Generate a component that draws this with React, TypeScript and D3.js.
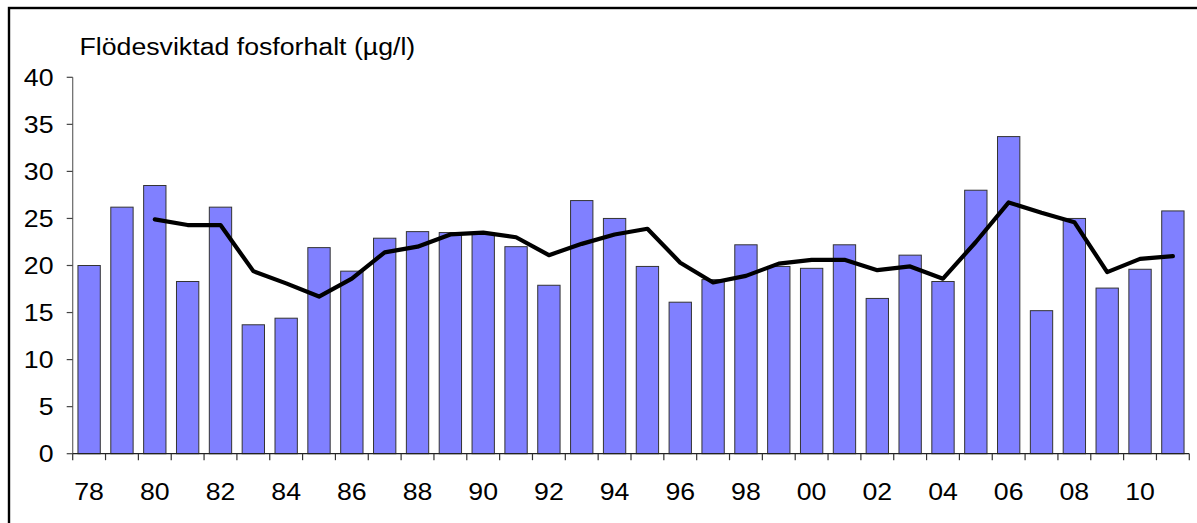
import React from "react";
import * as d3 from "d3";

const years: number[] = [
  1978, 1979, 1980, 1981, 1982, 1983, 1984, 1985, 1986, 1987, 1988, 1989,
  1990, 1991, 1992, 1993, 1994, 1995, 1996, 1997, 1998, 1999, 2000, 2001,
  2002, 2003, 2004, 2005, 2006, 2007, 2008, 2009, 2010, 2011,
];

const barValues: number[] = [
  20.0, 26.2, 28.5, 18.3, 26.2, 13.7, 14.4, 21.9, 19.4, 22.9, 23.6, 23.5,
  23.4, 22.0, 17.9, 26.9, 25.0, 19.9, 16.1, 18.5, 22.2, 19.9, 19.7, 22.2,
  16.5, 21.1, 18.3, 28.0, 33.7, 15.2, 25.0, 17.6, 19.6, 25.8,
];

const lineYears: number[] = [
  1980, 1981, 1982, 1983, 1984, 1985, 1986, 1987, 1988, 1989, 1990, 1991,
  1992, 1993, 1994, 1995, 1996, 1997, 1998, 1999, 2000, 2001, 2002, 2003,
  2004, 2005, 2006, 2007, 2008, 2009, 2010, 2011,
];

const lineValues: number[] = [
  24.9, 24.3, 24.3, 19.4, 18.1, 16.7, 18.6, 21.4, 22.0, 23.3, 23.5, 23.0,
  21.1, 22.3, 23.3, 23.9, 20.3, 18.2, 18.9, 20.2, 20.6, 20.6, 19.5, 19.9,
  18.6, 22.5, 26.7, 25.6, 24.6, 19.3, 20.7, 21.0,
];

const yTicks: number[] = [0, 5, 10, 15, 20, 25, 30, 35, 40];
const xLabelYears: number[] = years.filter((y) => y % 2 === 0);
const title = "Flödesviktad fosforhalt (µg/l)";

const W = 1197;
const H = 523;
const X0 = 72.7;
const X1 = 1189.3;
const Y0 = 453.7;
const Y1 = 77.3;
const FONT = "'Liberation Sans', Arial, Helvetica, sans-serif";
const FS = 24.5;
const SX = 1.09;

function T({ x, y, anchor, children }: { x: number; y: number; anchor: string; children: React.ReactNode }) {
  return (
    <text
      transform={`translate(${x},${y}) scale(${SX},1)`}
      textAnchor={anchor}
      fontFamily={FONT}
      fontSize={FS}
      fill="#000"
    >
      {children}
    </text>
  );
}

export default function App() {
  const x = d3
    .scaleBand<number>()
    .domain(years)
    .range([X0, X1])
    .paddingInner(0.32)
    .paddingOuter(0.16);
  const step = x.step();
  const xc = (yr: number) => (x(yr) as number) + x.bandwidth() / 2;
  const y = d3.scaleLinear().domain([0, 40]).range([Y0, Y1]);

  const line = d3
    .line<number>()
    .x((_, i) => xc(lineYears[i]))
    .y((v) => y(v));

  const capH = FS * 0.716;
  const boundaries = d3.range(years.length + 1).map((i) => X0 + i * step);

  return (
    <svg
      width={W}
      height={H}
      style={{ position: "absolute", left: 0, top: 0, background: "#fff" }}
    >
      <rect x={0} y={0} width={W} height={H} fill="#fff" />
      <rect x={9} y={8} width={W + 20} height={H + 20} fill="none" stroke="#000" strokeWidth={2.4} />

      <T x={79.5} y={54.5} anchor="start">{title}</T>

      {years.map((yr, i) => (
        <rect
          key={yr}
          x={x(yr)}
          y={y(barValues[i])}
          width={x.bandwidth()}
          height={Y0 - y(barValues[i])}
          fill="#8080FF"
          stroke="#333"
          strokeWidth={1}
        />
      ))}

      {/* y axis */}
      <line x1={X0} x2={X0} y1={Y1} y2={Y0} stroke="#666" strokeWidth={1.2} />
      {yTicks.map((t) => (
        <g key={t}>
          <line x1={X0 - 6} x2={X0} y1={y(t)} y2={y(t)} stroke="#444" strokeWidth={1.2} />
          <T x={53.5} y={y(t) + capH / 2} anchor="end">{t}</T>
        </g>
      ))}

      {/* x axis */}
      <line x1={X0} x2={X1} y1={Y0} y2={Y0} stroke="#222" strokeWidth={1.2} />
      {boundaries.map((bx, i) => (
        <line key={i} x1={bx} x2={bx} y1={Y0} y2={Y0 + 6.5} stroke="#333" strokeWidth={1.2} />
      ))}
      {xLabelYears.map((yr) => (
        <T key={yr} x={xc(yr)} y={500} anchor="middle">
          {String(yr % 100).padStart(2, "0")}
        </T>
      ))}

      <path
        d={line(lineValues) || ""}
        fill="none"
        stroke="#000"
        strokeWidth={4.2}
        strokeLinejoin="round"
        strokeLinecap="round"
      />
    </svg>
  );
}
